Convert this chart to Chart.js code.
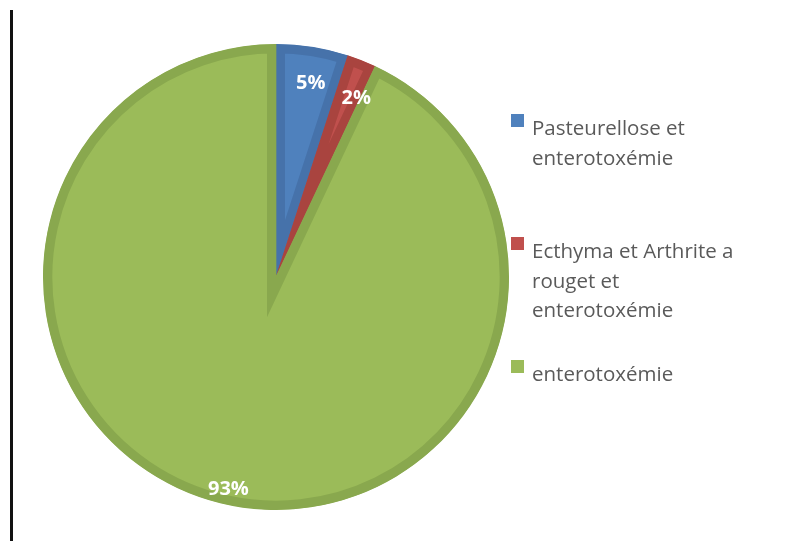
<!DOCTYPE html>
<html>
<head>
  <title>Répartition des vaccinations</title>
  <script src="https://cdn.jsdelivr.net/npm/chart.js@4.4.0/dist/chart.umd.min.js"></script>
  <style>
    body { margin: 0; background: #fff; font-family: "Open Sans", sans-serif; }
    #wrap { position: relative; width: 800px; height: 541px; overflow: hidden; }
    #rule { position: absolute; left: 10px; top: 10px; width: 3px; height: 531px; background: #111; }
    #chartBox { position: absolute; left: 0; top: 0; width: 552px; height: 541px; }
    #legend { position: absolute; left: 511px; top: 0; width: 280px; height: 541px; }
    .item { position: absolute; left: 0; display: flex; align-items: flex-start; }
    .item:nth-child(1) { top: 113px; }
    .item:nth-child(2) { top: 236px; }
    .item:nth-child(3) { top: 359px; }
    .box { width: 13px; height: 13px; margin-top: 1px; flex: none; }
    .txt { margin-left: 8px; width: 220px; font-size: 20.5px; line-height: 29.5px; color: #5a5a5a; }
  </style>
</head>
<body>
<div id="wrap">
  <div id="rule"></div>
  <div id="chartBox"><canvas id="myChart"></canvas></div>
  <div id="legend"></div>
</div>
<script>
  // chart data
  const labels = ['Pasteurellose et enterotoxémie', 'Ecthyma et Arthrite a rouget et enterotoxémie', 'enterotoxémie'];
  const values = [5, 2, 93];
  const fillColors = ['#4F81BD', '#C0504D', '#9BBB59'];
  const edgeColors = ['#4672AA', '#A9443F', '#89A84E'];

  // percentage labels drawn inside each slice, near the outer edge
  const sliceLabels = {
    id: 'sliceLabels',
    afterDatasetsDraw(chart, args, opts) {
      const ctx = chart.ctx;
      const arcs = chart.getDatasetMeta(0).data;
      const total = values.reduce((a, b) => a + b, 0);
      ctx.save();
      ctx.font = 'bold 20px "Open Sans", sans-serif';
      ctx.fillStyle = '#fff';
      ctx.textAlign = 'center';
      ctx.textBaseline = 'middle';
      arcs.forEach((arc, i) => {
        const p = arc.getProps(['x', 'y', 'startAngle', 'endAngle', 'outerRadius'], true);
        const mid = (p.startAngle + p.endAngle) / 2 + opts.turn[i];
        const d = p.outerRadius - opts.inset[i];
        const txt = Math.round(values[i] / total * 100) + '%';
        ctx.fillText(txt, p.x + Math.cos(mid) * d, p.y + Math.sin(mid) * d);
      });
      ctx.restore();
    }
  };

  new Chart(document.getElementById('myChart'), {
    type: 'pie',
    data: {
      labels: labels,
      datasets: [{
        data: values,
        backgroundColor: fillColors,
        borderColor: edgeColors,
        borderWidth: 9,
        borderAlign: 'inner',
        borderJoinStyle: 'miter',
        radius: 233
      }]
    },
    options: {
      responsive: true,
      maintainAspectRatio: false,
      animation: false,
      layout: { padding: { top: 13 } },
      plugins: {
        legend: { display: false },
        tooltip: { enabled: false },
        sliceLabels: { inset: [36, 37, 15], turn: [0.02, 0.045, 0] }
      }
    },
    plugins: [sliceLabels]
  });

  // html legend so long names can wrap
  const legend = document.getElementById('legend');
  labels.forEach((name, i) => {
    const item = document.createElement('div');
    item.className = 'item';
    item.innerHTML = `<div class="box" style="background:${fillColors[i]}"></div><div class="txt">${name}</div>`;
    legend.appendChild(item);
  });
</script>
</body>
</html>
